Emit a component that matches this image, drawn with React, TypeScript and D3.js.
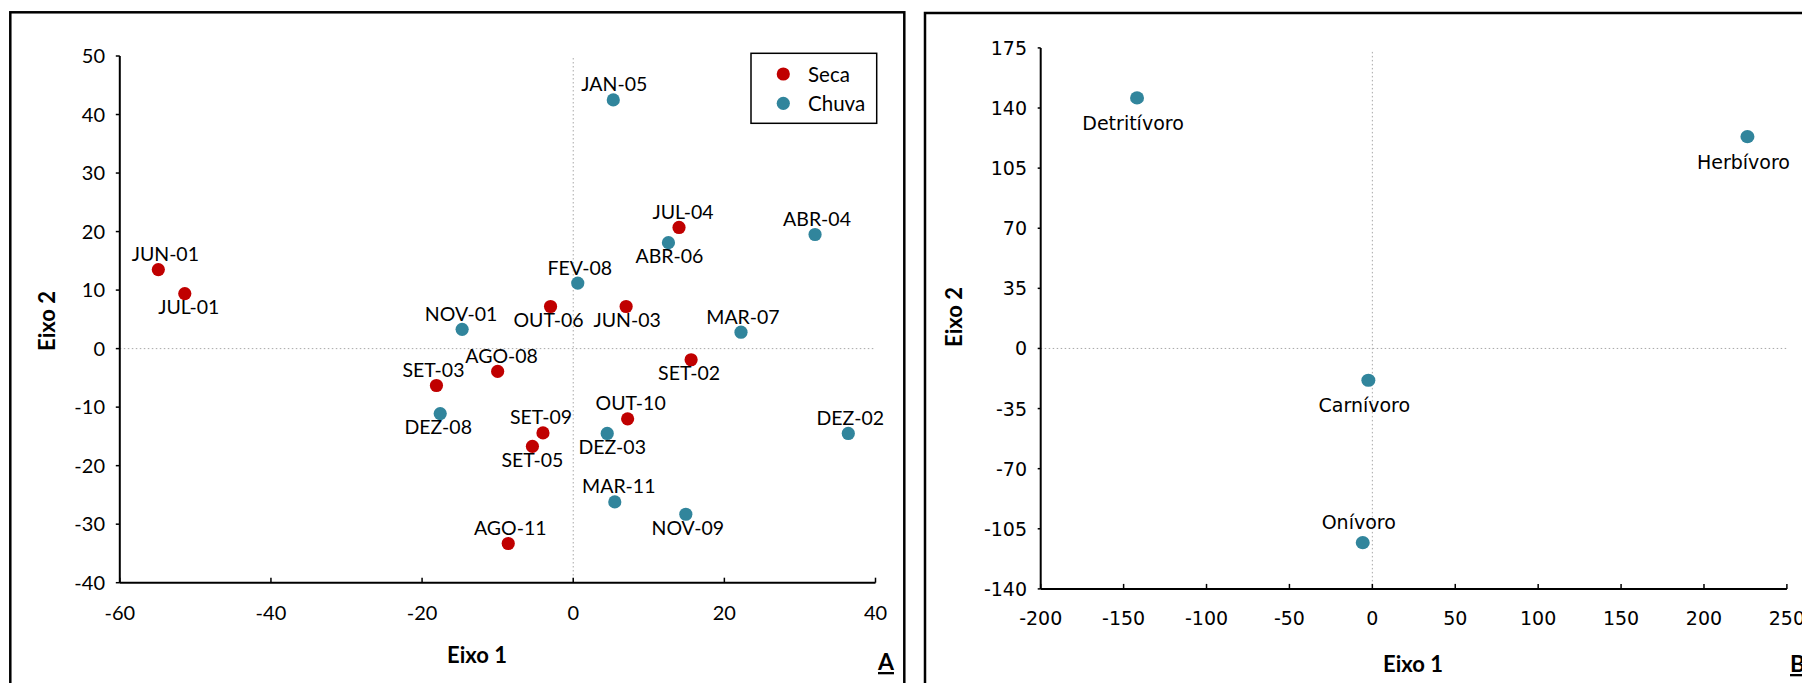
import React from 'react';
import * as d3 from 'd3';

// Painel A - amostras (Seca / Chuva)
const secaLabels = ['JUN-01', 'JUL-01', 'OUT-06', 'JUN-03', 'JUL-04', 'SET-03', 'AGO-08', 'SET-09', 'SET-05', 'AGO-11', 'SET-02', 'OUT-10'];
const secaX = [-54.9, -51.4, -3.0, 7.0, 14.0, -18.1, -10.0, -4.0, -5.4, -8.6, 15.6, 7.2];
const secaY = [13.5, 9.4, 7.2, 7.2, 20.7, -6.3, -3.9, -14.4, -16.7, -33.3, -1.9, -12.0];

const chuvaLabels = ['JAN-05', 'FEV-08', 'NOV-01', 'ABR-06', 'ABR-04', 'MAR-07', 'DEZ-08', 'DEZ-03', 'DEZ-02', 'MAR-11', 'NOV-09'];
const chuvaX = [5.3, 0.6, -14.7, 12.6, 32.0, 22.2, -17.6, 4.5, 36.4, 5.5, 14.9];
const chuvaY = [42.5, 11.2, 3.3, 18.1, 19.5, 2.8, -11.1, -14.5, -14.5, -26.2, -28.3];

const ticksAX = [-60, -40, -20, 0, 20, 40];
const ticksAY = [-40, -30, -20, -10, 0, 10, 20, 30, 40, 50];

// Painel B - guildas
const guildLabels = ['Detritívoro', 'Herbívoro', 'Carnívoro', 'Onívoro'];
const guildX = [-141.9, 226.2, -2.4, -5.8];
const guildY = [145.9, 123.3, -18.5, -113.1];

const ticksBX = [-200, -150, -100, -50, 0, 50, 100, 150, 200, 250];
const ticksBY = [-140, -105, -70, -35, 0, 35, 70, 105, 140, 175];

// label placement (above / below the dot, small horizontal nudge)
const placeA: Record<string, [string, number]> = {
  'JUN-01': ['up', 7], 'JUL-01': ['down', 4], 'OUT-06': ['down', -2], 'JUN-03': ['down', 1],
  'JUL-04': ['up', 4], 'SET-03': ['up', -3], 'AGO-08': ['up', 4], 'SET-09': ['up', -2],
  'SET-05': ['down', 0], 'AGO-11': ['up', 2], 'SET-02': ['down', -2], 'OUT-10': ['up', 3],
  'JAN-05': ['up', 1], 'FEV-08': ['up', 2], 'NOV-01': ['up', -1], 'ABR-06': ['down', 1],
  'ABR-04': ['up', 2], 'MAR-07': ['up', 2], 'DEZ-08': ['down', -2], 'DEZ-03': ['down', 5],
  'DEZ-02': ['up', 2], 'MAR-11': ['up', 4], 'NOV-09': ['down', 2]
};
const placeB: Record<string, string> = {
  'Detritívoro': 'down', 'Herbívoro': 'down', 'Carnívoro': 'down', 'Onívoro': 'up'
};

const RED = '#C00000';
const TEAL = '#31859C';
const fontA = 'Lato, Calibri, sans-serif';
const fontB = '"DejaVu Sans", sans-serif';

export default function App() {
  const xA = d3.scaleLinear().domain([-60, 40]).range([119.8, 875.5]);
  const yA = d3.scaleLinear().domain([-40, 50]).range([582.7, 56]);
  const xB = d3.scaleLinear().domain([-200, 250]).range([1040.7, 1786.9]);
  const yB = d3.scaleLinear().domain([-140, 175]).range([588.9, 47.9]);

  const seca = secaLabels.map((l, i) => ({ l, x: secaX[i], y: secaY[i], c: RED }));
  const chuva = chuvaLabels.map((l, i) => ({ l, x: chuvaX[i], y: chuvaY[i], c: TEAL }));
  const guilds = guildLabels.map((l, i) => ({ l, x: guildX[i], y: guildY[i] }));

  const dotted = { stroke: '#a8a8a8', strokeWidth: 1, strokeDasharray: '1.5 2.5' };

  return (
    <svg width={1802} height={683} style={{ position: 'absolute', left: 0, top: 0, display: 'block', background: '#fff' }}>
      {/* ---------- Panel A ---------- */}
      <rect x={10.3} y={12.3} width={894} height={720} fill="none" stroke="#000" strokeWidth={2.5} />
      <line x1={xA(0)} x2={xA(0)} y1={yA(50) + 2} y2={yA(-40)} {...dotted} />
      <line x1={xA(-60)} x2={xA(40)} y1={yA(0)} y2={yA(0)} {...dotted} />

      <line x1={xA(-60)} x2={xA(-60)} y1={yA(50)} y2={yA(-40)} stroke="#000" strokeWidth={2} />
      <line x1={xA(-60)} x2={xA(40)} y1={yA(-40)} y2={yA(-40)} stroke="#000" strokeWidth={2} />
      {ticksAY.map(t => (
        <g key={'ay' + t}>
          <line x1={xA(-60) - 4} x2={xA(-60)} y1={yA(t)} y2={yA(t)} stroke="#000" strokeWidth={1.5} />
          <text x={105} y={yA(t) + 7} textAnchor="end" fontFamily={fontA} fontSize={20}>{t}</text>
        </g>
      ))}
      {ticksAX.map(t => (
        <g key={'ax' + t}>
          <line x1={xA(t)} x2={xA(t)} y1={yA(-40)} y2={yA(-40) - 5} stroke="#000" strokeWidth={1.5} />
          <text x={xA(t)} y={620} textAnchor="middle" fontFamily={fontA} fontSize={20}>{t}</text>
        </g>
      ))}

      {[...seca, ...chuva].map(d => {
        const [side, dx] = placeA[d.l];
        const cx = xA(d.x), cy = yA(d.y);
        return (
          <g key={d.l}>
            <circle cx={cx} cy={cy} r={6.6} fill={d.c} />
            <text x={cx + dx} y={side === 'up' ? cy - 8.5 : cy + 20.5} textAnchor="middle"
              fontFamily={fontA} fontSize={19.5} fill="#000">{d.l}</text>
          </g>
        );
      })}

      {/* legend */}
      <rect x={751} y={53.3} width={125.7} height={70} fill="#fff" stroke="#000" strokeWidth={1.5} />
      <circle cx={783.3} cy={74} r={6.6} fill={RED} />
      <circle cx={783.3} cy={103.3} r={6.6} fill={TEAL} />
      <text x={808} y={82} fontFamily={fontA} fontSize={20.5}>Seca</text>
      <text x={808} y={111} fontFamily={fontA} fontSize={20.5}>Chuva</text>

      <text x={477} y={663} textAnchor="middle" fontFamily={fontA} fontWeight="bold" fontSize={22}>Eixo 1</text>
      <text x={55} y={321} transform="rotate(-90 55 321)" textAnchor="middle" fontFamily={fontA} fontWeight="bold" fontSize={22}>Eixo 2</text>
      <text x={886} y={670} textAnchor="middle" fontFamily={fontA} fontWeight="bold" fontSize={23} textDecoration="underline">A</text>

      {/* ---------- Panel B ---------- */}
      <rect x={925} y={13} width={900} height={720} fill="none" stroke="#000" strokeWidth={2.5} />
      <line x1={xB(0)} x2={xB(0)} y1={yB(175) + 4} y2={yB(-140)} {...dotted} />
      <line x1={xB(-200)} x2={xB(250)} y1={yB(0)} y2={yB(0)} {...dotted} />

      <line x1={xB(-200)} x2={xB(-200)} y1={yB(175)} y2={yB(-140)} stroke="#000" strokeWidth={2} />
      <line x1={xB(-200)} x2={xB(250)} y1={yB(-140)} y2={yB(-140)} stroke="#000" strokeWidth={2} />
      {ticksBY.map(t => (
        <g key={'by' + t}>
          <line x1={xB(-200) - 3} x2={xB(-200)} y1={yB(t)} y2={yB(t)} stroke="#000" strokeWidth={1.5} />
          <text x={1027} y={yB(t) + 7} textAnchor="end" fontFamily={fontB} fontSize={19}>{t}</text>
        </g>
      ))}
      {ticksBX.map(t => (
        <g key={'bx' + t}>
          <line x1={xB(t)} x2={xB(t)} y1={yB(-140)} y2={yB(-140) - 5} stroke="#000" strokeWidth={1.5} />
          <text x={xB(t)} y={625} textAnchor="middle" fontFamily={fontB} fontSize={19}>{t}</text>
        </g>
      ))}

      {guilds.map(d => {
        const cx = xB(d.x), cy = yB(d.y);
        return (
          <g key={d.l}>
            <ellipse cx={cx} cy={cy} rx={7} ry={6.6} fill={TEAL} />
            <text x={cx - 4} y={placeB[d.l] === 'up' ? cy - 14 : cy + 32} textAnchor="middle"
              fontFamily={fontB} fontSize={19}>{d.l}</text>
          </g>
        );
      })}

      <text x={1413} y={672} textAnchor="middle" fontFamily={fontA} fontWeight="bold" fontSize={22}>Eixo 1</text>
      <text x={962} y={317} transform="rotate(-90 962 317)" textAnchor="middle" fontFamily={fontA} fontWeight="bold" fontSize={22}>Eixo 2</text>
      <text x={1790} y={672} fontFamily={fontA} fontWeight="bold" fontSize={23} textDecoration="underline">B</text>
    </svg>
  );
}
